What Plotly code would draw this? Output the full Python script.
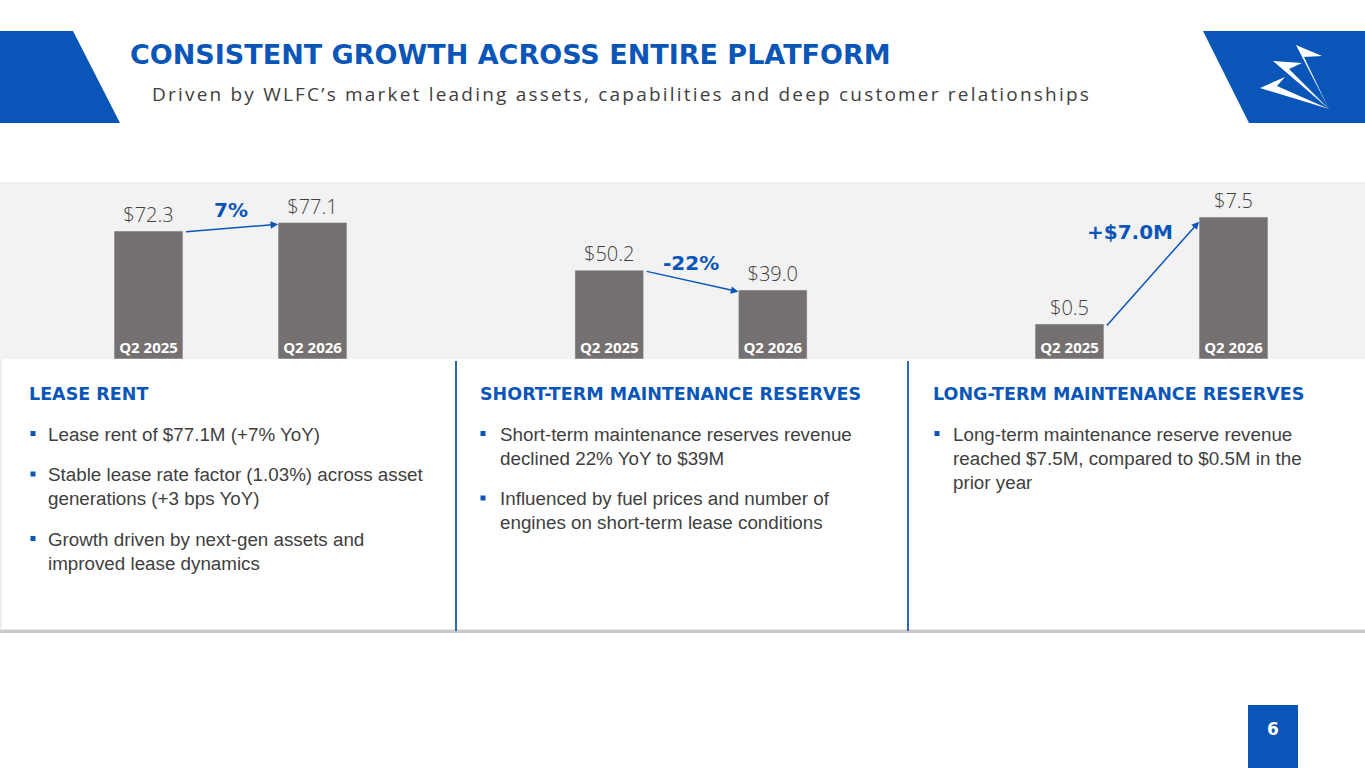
import plotly.graph_objects as go

# Dados do slide
periodos = ["Q2 2025", "Q2 2026"]
lease_rent = [72.3, 77.1]
st_reserves = [50.2, 39.0]
lt_reserves = [0.5, 7.5]
variacoes = ["7%", "-22%", "+$7.0M"]

titulo = "CONSISTENT GROWTH ACROSS ENTIRE PLATFORM"
subtitulo = "Driven by WLFC’s market leading assets, capabilities and deep customer relationships"

secoes = ["LEASE RENT", "SHORT-TERM MAINTENANCE RESERVES", "LONG-TERM MAINTENANCE RESERVES"]
bullets_lease = [
    ["Lease rent of $77.1M (+7% YoY)"],
    ["Stable lease rate factor (1.03%) across asset", "generations (+3 bps YoY)"],
    ["Growth driven by next-gen assets and", "improved lease dynamics"],
]
bullets_st = [
    ["Short-term maintenance reserves revenue", "declined 22% YoY to $39M"],
    ["Influenced by fuel prices and number of", "engines on short-term lease conditions"],
]
bullets_lt = [
    ["Long-term maintenance reserve revenue", "reached $7.5M, compared to $0.5M in the", "prior year"],
]
pagina = "6"

# Cores
AZUL = "#0A56B8"
CINZA_BARRA = "#767171"
CINZA_TEXTO = "#404040"
FUNDO_FAIXA = "#F2F2F2"

W, H = 1365, 768


def px(x):
    return x / W


def py(y):
    return 1 - y / H


fig = go.Figure()

# Paineis de barras: (valores, eixo, dominio x em pixels, range y, base)
base_lt = -1.8
paineis = [
    (lease_rent, "", (66.5, 394.5), [0, 100], 0),
    (st_reserves, "2", (527.5, 854.5), [0, 100], 0),
    (lt_reserves, "3", (987.5, 1315.5), [base_lt, 9.8], base_lt),
]

for i, (vals, ax, (x0, x1), yr, base) in enumerate(paineis):
    fig.add_trace(go.Bar(
        x=periodos,
        y=[v - base for v in vals],
        base=base,
        xaxis="x" + ax,
        yaxis="y" + ax,
        marker_color=CINZA_BARRA,
        text=[f"${v:.1f}" for v in vals],
        textposition="outside",
        textfont=dict(family="Open Sans", size=20, color=CINZA_TEXTO, weight=300),
        cliponaxis=False,
        hoverinfo="skip",
    ))
    fig.layout["xaxis" + ax] = dict(
        domain=[px(x0), px(x1)], anchor="y" + ax, type="category",
        showgrid=False, zeroline=False, showline=False, ticks="",
        ticklabelposition="inside",
        tickfont=dict(family="Open Sans", size=15, color="white", weight=700),
    )
    fig.layout["yaxis" + ax] = dict(
        domain=[py(359), py(182)], anchor="x" + ax, range=yr,
        visible=False, showgrid=False,
    )

    # seta de variacao entre os dois trimestres
    fig.add_annotation(
        x=0.79, y=vals[1] - (0.3 if i == 2 else 1), xref="x" + ax, yref="y" + ax,
        ax=0.22, ay=vals[0] - (0.2 if i == 2 else 0.5), axref="x" + ax, ayref="y" + ax,
        showarrow=True, arrowhead=2, arrowsize=1, arrowwidth=1.5, arrowcolor=AZUL, text="",
    )

# rotulos das variacoes
pos_var = [(0.5, 84, ""), (0.5, 54, "2"), (0.37, 6.5, "3")]
for txt, (xv, yv, ax) in zip(variacoes, pos_var):
    fig.add_annotation(
        x=xv, y=yv, xref="x" + ax, yref="y" + ax, text=f"<b>{txt}</b>", showarrow=False,
        font=dict(family="DejaVu Sans", size=20, color=AZUL),
    )

shapes = []

# faixa cinza do grafico
shapes.append(dict(type="rect", xref="paper", yref="paper", x0=0, x1=1,
                   y0=py(359), y1=py(182), fillcolor=FUNDO_FAIXA, line_width=0, layer="below"))

# sombra do cartao inferior
shapes.append(dict(type="rect", xref="paper", yref="paper", x0=0, x1=1,
                   y0=py(633), y1=py(629.5), fillcolor="#C9C9C9", line_width=0, layer="below"))
shapes.append(dict(type="rect", xref="paper", yref="paper", x0=0, x1=px(2),
                   y0=py(630), y1=py(359), fillcolor="#EDEDED", line_width=0, layer="below"))

# divisores azuis
for xd in (456, 908):
    shapes.append(dict(type="line", xref="paper", yref="paper", x0=px(xd), x1=px(xd),
                       y0=py(361), y1=py(631), line=dict(color="#2F64B8", width=2)))

# forma azul a esquerda do titulo
shapes.append(dict(type="path", xref="paper", yref="paper",
                   path=f"M 0 {py(31)} L {px(73)} {py(31)} L {px(120)} {py(123)} L 0 {py(123)} Z",
                   fillcolor=AZUL, line_width=0))

# bloco do logo a direita
shapes.append(dict(type="path", xref="paper", yref="paper",
                   path=f"M {px(1203)} {py(31)} L 1 {py(31)} L 1 {py(123)} L {px(1249)} {py(123)} Z",
                   fillcolor=AZUL, line_width=0))

# logo: tres bracos brancos convergindo
ponta = (1329, 109)
bracos = [
    [(1296, 45), (1322, 56), (1304, 57), ponta],
    [(1273, 61), (1302, 63), (1289, 69), ponta],
    [(1260, 88), (1285, 77), (1277, 86), ponta],
]
for b in bracos:
    (ax_, ay_), (fx, fy), (ix, iy), (tx, ty) = b
    caminho = (f"M {px(tx)} {py(ty)} L {px(ax_)} {py(ay_)} L {px(fx)} {py(fy)} "
               f"L {px(ix)} {py(iy)} Z")
    shapes.append(dict(type="path", xref="paper", yref="paper", path=caminho,
                       fillcolor="white", line_width=0))

# caixa do numero da pagina
shapes.append(dict(type="rect", xref="paper", yref="paper", x0=px(1248), x1=px(1298),
                   y0=0, y1=py(705), fillcolor=AZUL, line_width=0))

# titulo e subtitulo
fig.add_annotation(x=px(128), y=py(54), xref="paper", yref="paper", xanchor="left", yanchor="middle",
                   text=f"<b>{titulo}</b>", showarrow=False,
                   font=dict(family="DejaVu Sans", size=27, color=AZUL))
fig.add_annotation(x=px(150), y=py(94), xref="paper", yref="paper", xanchor="left", yanchor="middle",
                   text=f'<span style="letter-spacing:2.2px">{subtitulo}</span>', showarrow=False,
                   font=dict(family="Open Sans", size=19, color=CINZA_TEXTO))

# textos das secoes
colunas = [(27, 33, 46, bullets_lease), (478, 483, 498, bullets_st), (931, 937, 951, bullets_lt)]
for sec, (xt, xb, xtx, blist) in zip(secoes, colunas):
    fig.add_annotation(x=px(xt), y=py(394), xref="paper", yref="paper", xanchor="left", yanchor="middle",
                       text=f"<b>{sec}</b>", showarrow=False,
                       font=dict(family="DejaVu Sans", size=17.5, color=AZUL))
    yl = 434
    for linhas in blist:
        shapes.append(dict(type="rect", xref="paper", yref="paper",
                           x0=px(xb - 2.5), x1=px(xb + 2.5), y0=py(yl + 2), y1=py(yl - 3),
                           fillcolor=AZUL, line_width=0))
        for ln in linhas:
            fig.add_annotation(x=px(xtx), y=py(yl), xref="paper", yref="paper",
                               xanchor="left", yanchor="middle", text=ln, showarrow=False,
                               font=dict(family="Liberation Sans", size=18.8, color=CINZA_TEXTO))
            yl += 24
        yl += 16.5

fig.add_annotation(x=px(1273), y=py(729), xref="paper", yref="paper", xanchor="center", yanchor="middle",
                   text=f"<b>{pagina}</b>", showarrow=False,
                   font=dict(family="DejaVu Sans", size=17, color="white"))

fig.update_layout(
    width=W, height=H,
    margin=dict(l=0, r=0, t=0, b=0),
    paper_bgcolor="white", plot_bgcolor="rgba(0,0,0,0)",
    showlegend=False, bargap=0.58,
    shapes=shapes,
)

# sem margem do body para o slide ocupar a janela inteira
fig.write_html("out.html", config={"displayModeBar": False},
               post_script="document.body.style.margin='0';document.body.style.overflow='hidden';")
